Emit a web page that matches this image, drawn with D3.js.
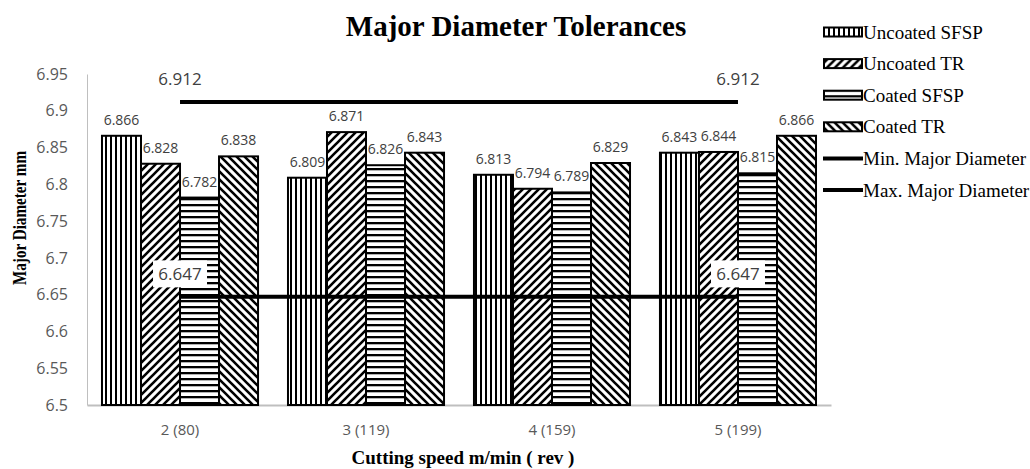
<!DOCTYPE html>
<html>
<head>
<meta charset="utf-8">
<script src="https://cdn.jsdelivr.net/npm/d3@7"></script>
<style>
  html, body { margin: 0; padding: 0; background: #fff; }
  svg { display: block; }
</style>
</head>
<body>
<div id="chart"></div>
<script>
// Cutting speed categories
const categories = ["2 (80)", "3 (119)", "4 (159)", "5 (199)"];

// Measured major diameters (mm) for each tool
const uncoatedSFSP = [6.866, 6.809, 6.813, 6.843];
const uncoatedTR   = [6.828, 6.871, 6.794, 6.844];
const coatedSFSP   = [6.782, 6.826, 6.789, 6.815];
const coatedTR     = [6.838, 6.843, 6.829, 6.866];

// Tolerance limits
const minMajorDiameter = [6.647, 6.647, 6.647, 6.647];
const maxMajorDiameter = [6.912, 6.912, 6.912, 6.912];

// Axis ticks
const yTicks = [6.5, 6.55, 6.6, 6.65, 6.7, 6.75, 6.8, 6.85, 6.9, 6.95];

const barSeries = [
  { name: "Uncoated SFSP", values: uncoatedSFSP, pattern: "pat-vert" },
  { name: "Uncoated TR",   values: uncoatedTR,   pattern: "pat-diag-up" },
  { name: "Coated SFSP",   values: coatedSFSP,   pattern: "pat-horiz" },
  { name: "Coated TR",     values: coatedTR,     pattern: "pat-diag-down" }
];
const lineSeries = [
  { name: "Min. Major Diameter", values: minMajorDiameter, boxed: true },
  { name: "Max. Major Diameter", values: maxMajorDiameter, boxed: false }
];

const W = 1030, H = 469;
const plot = { left: 87, right: 831, top: 74, bottom: 405 };

const svg = d3.select("#chart").append("svg")
  .attr("width", W).attr("height", H);

// Hatch fills
const defs = svg.append("defs");
function pattern(id, w, h, draw) {
  const p = defs.append("pattern")
    .attr("id", id).attr("patternUnits", "userSpaceOnUse")
    .attr("width", w).attr("height", h);
  p.append("rect").attr("width", w).attr("height", h).attr("fill", "#fff");
  draw(p);
}
pattern("pat-vert", 5, 10, p => p.append("rect").attr("x", 0).attr("width", 2).attr("height", 10).attr("fill", "#000"));
pattern("pat-horiz", 10, 6, p => p.append("rect").attr("y", 0).attr("width", 10).attr("height", 2.3).attr("fill", "#000"));
pattern("pat-diag-up", 8, 8, p => p.append("path")
  .attr("d", "M-2,2 L2,-2 M0,8 L8,0 M6,10 L10,6")
  .attr("stroke", "#000").attr("stroke-width", 2.6));
pattern("pat-diag-down", 8, 8, p => p.append("path")
  .attr("d", "M-2,6 L2,10 M0,0 L8,8 M6,-2 L10,2")
  .attr("stroke", "#000").attr("stroke-width", 2.6));

// Scales
const x = d3.scaleBand().domain(categories)
  .range([plot.left, plot.right])
  .paddingInner(0.161).paddingOuter(0.0806);
const xs = d3.scaleBand().domain(barSeries.map(s => s.name))
  .range([0, x.bandwidth()]);
const y = d3.scaleLinear().domain([6.5, 6.95]).range([plot.bottom, plot.top]);

// Title
svg.append("text")
  .attr("x", 516).attr("y", 36)
  .attr("text-anchor", "middle")
  .attr("font-family", "Liberation Serif, Times New Roman, serif")
  .attr("font-weight", "bold").attr("font-size", 29)
  .attr("fill", "#000")
  .text("Major Diameter Tolerances");

// Y axis
const yAxis = svg.append("g")
  .attr("transform", `translate(${plot.left},0)`)
  .call(d3.axisLeft(y).tickValues(yTicks).tickSize(0).tickPadding(19)
    .tickFormat(d => d3.format("")(+d.toFixed(2))));
yAxis.select(".domain").attr("stroke", "#bfbfbf").attr("stroke-width", 1);
yAxis.selectAll("text")
  .attr("font-family", "Open Sans, sans-serif").attr("font-size", 16)
  .attr("fill", "#595959");

// X axis
const xAxis = svg.append("g")
  .attr("transform", `translate(0,${plot.bottom})`)
  .call(d3.axisBottom(x).tickSize(0).tickPadding(19));
xAxis.select(".domain").attr("stroke", "#bfbfbf").attr("stroke-width", 2);
xAxis.selectAll("text")
  .attr("font-family", "Open Sans, sans-serif").attr("font-size", 15)
  .attr("fill", "#595959");

// Axis titles
svg.append("text")
  .attr("x", (plot.left + plot.right) / 2 + 4).attr("y", 464)
  .attr("text-anchor", "middle")
  .attr("font-family", "Liberation Serif, Times New Roman, serif")
  .attr("font-weight", "bold").attr("font-size", 19)
  .text("Cutting speed m/min ( rev )");
svg.append("text")
  .attr("transform", "translate(26,218) rotate(-90)")
  .attr("text-anchor", "middle")
  .attr("font-family", "Liberation Serif, Times New Roman, serif")
  .attr("font-weight", "bold").attr("font-size", 19)
  .attr("textLength", 134).attr("lengthAdjust", "spacingAndGlyphs")
  .text("Major Diameter mm");

// Bars
const groups = svg.append("g").selectAll("g")
  .data(barSeries).join("g");
groups.selectAll("rect")
  .data(s => s.values.map((v, i) => ({ s, v, c: categories[i] })))
  .join("rect")
  .attr("x", d => x(d.c) + xs(d.s.name))
  .attr("y", d => y(d.v))
  .attr("width", xs.bandwidth())
  .attr("height", d => y(6.5) - y(d.v))
  .attr("fill", d => `url(#${d.s.pattern})`)
  .attr("stroke", "#000").attr("stroke-width", 2);

// Tolerance lines
const line = d3.line()
  .x((v, i) => x(categories[i]) + x.bandwidth() / 2)
  .y(v => y(v));
svg.append("g").selectAll("path")
  .data(lineSeries).join("path")
  .attr("d", s => line(s.values))
  .attr("fill", "none").attr("stroke", "#000").attr("stroke-width", 4);

// Bar value labels
const labelG = svg.append("g")
  .attr("font-family", "Open Sans, sans-serif").attr("font-size", 14)
  .attr("fill", "#404040").attr("text-anchor", "middle");
barSeries.forEach(s => {
  s.values.forEach((v, i) => {
    labelG.append("text")
      .attr("x", x(categories[i]) + xs(s.name) + xs.bandwidth() / 2)
      .attr("y", y(v) - 11)
      .text(d3.format(".3f")(v));
  });
});

// Tolerance labels at the first and last point
lineSeries.forEach(s => {
  [0, s.values.length - 1].forEach(i => {
    const cx = x(categories[i]) + x.bandwidth() / 2;
    const cy = y(s.values[i]) - 23;
    if (s.boxed) {
      svg.append("rect")
        .attr("x", cx - 27).attr("y", cy - 13.5)
        .attr("width", 54).attr("height", 27)
        .attr("fill", "#fff");
    }
    svg.append("text")
      .attr("x", cx).attr("y", cy)
      .attr("dy", "0.35em")
      .attr("text-anchor", "middle")
      .attr("font-family", "Open Sans, sans-serif").attr("font-size", 17)
      .attr("fill", "#404040")
      .text(d3.format(".3f")(s.values[i]));
  });
});

// Legend
const legend = svg.append("g")
  .attr("font-family", "Liberation Serif, Times New Roman, serif")
  .attr("font-size", 19);
const legendRows = [
  ...barSeries.map(s => ({ name: s.name, pattern: s.pattern })),
  ...lineSeries.map(s => ({ name: s.name, line: true }))
];
legendRows.forEach((r, i) => {
  const cy = 32 + i * 31.6;
  const g = legend.append("g").attr("transform", `translate(823,${cy})`);
  if (r.line) {
    g.append("line").attr("x1", 0).attr("x2", 40).attr("y1", 0).attr("y2", 0)
      .attr("stroke", "#000").attr("stroke-width", 4);
  } else {
    g.append("rect").attr("x", 1).attr("y", -4.5).attr("width", 38).attr("height", 9)
      .attr("fill", `url(#${r.pattern})`)
      .attr("stroke", "#000").attr("stroke-width", 2);
  }
  g.append("text").attr("x", 40).attr("y", 0).attr("dy", "0.35em")
    .attr("fill", "#000").text(r.name);
});
</script>
</body>
</html>
